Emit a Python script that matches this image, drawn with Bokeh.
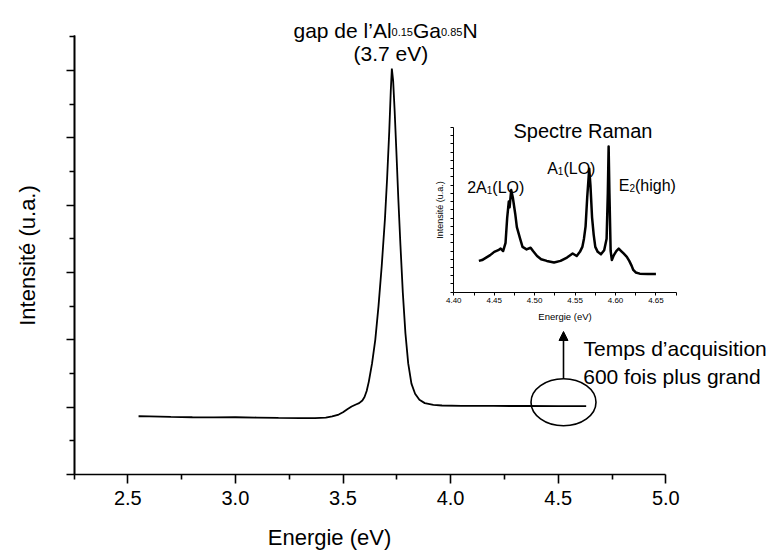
import math
from bokeh.plotting import figure
from bokeh.models import (Range1d, LinearAxis, FixedTicker, Label, Arrow, NormalHead,
                          PrintfTickFormatter)
from bokeh.embed import file_html
from bokeh.resources import INLINE

# ---------------- data ----------------
# main photoluminescence spectrum (energy in eV, intensity in arbitrary units)
main_energy = [2.55, 2.60, 2.70, 2.80, 2.90, 3.00, 3.10, 3.20, 3.30, 3.37, 3.42, 3.45, 3.48,
               3.50, 3.52, 3.54, 3.56, 3.575, 3.59, 3.60, 3.61, 3.62, 3.635, 3.65, 3.665,
               3.68, 3.695, 3.705, 3.715, 3.722, 3.727, 3.733, 3.740, 3.748, 3.757, 3.767,
               3.778, 3.790, 3.803, 3.818, 3.835, 3.855, 3.880, 3.92, 3.96, 4.05, 4.20,
               4.35, 4.50, 4.63]
main_intensity = [0.865, 0.862, 0.855, 0.850, 0.848, 0.850, 0.846, 0.840, 0.836, 0.836, 0.845,
                  0.862, 0.890, 0.925, 0.970, 1.010, 1.040, 1.060, 1.100, 1.150, 1.240, 1.380,
                  1.650, 2.000, 2.500, 3.100, 3.800, 4.400, 5.100, 5.700, 6.030, 5.850, 5.400,
                  4.800, 4.100, 3.400, 2.700, 2.100, 1.650, 1.350, 1.200, 1.110, 1.060, 1.035,
                  1.025, 1.020, 1.018, 1.017, 1.016, 1.015]

# Raman inset spectrum
raman_energy = [4.431, 4.435, 4.440, 4.445, 4.450, 4.455, 4.458, 4.461, 4.464, 4.466, 4.468,
                4.469, 4.471, 4.473, 4.476, 4.478, 4.482, 4.485, 4.490, 4.495, 4.498, 4.503,
                4.508, 4.515, 4.524, 4.532, 4.540, 4.547, 4.552, 4.556, 4.559, 4.561, 4.563,
                4.565, 4.5675, 4.569, 4.571, 4.573, 4.575, 4.578, 4.582, 4.586, 4.589, 4.5905,
                4.5915, 4.5925, 4.594, 4.5955, 4.598, 4.601, 4.604, 4.607, 4.610, 4.614, 4.617,
                4.620, 4.622, 4.625, 4.630, 4.640, 4.650]
raman_intensity = [3.8, 3.9, 4.2, 4.5, 4.9, 5.1, 5.3, 5.0, 6.0, 9.0, 11.0, 10.3, 12.4, 11.5,
                   9.5, 7.9, 6.5, 5.5, 5.2, 5.4, 5.0, 4.4, 4.0, 3.8, 3.6, 3.8, 4.2, 4.7, 4.4,
                   4.9, 5.5, 6.5, 8.0, 11.5, 15.0, 13.0, 9.1, 7.0, 5.5, 4.9, 4.6, 5.1, 6.5, 12.0,
                   17.7, 12.0, 5.0, 3.9, 4.5, 5.0, 5.3, 5.0, 4.7, 4.3, 3.8, 3.2, 2.7, 2.4, 2.25,
                   2.2, 2.2]

x_ticks = [2.5, 3.0, 3.5, 4.0, 4.5, 5.0]
x_minor = [2.25, 2.75, 3.25, 3.75, 4.25, 4.75]
y_ticks = [0, 1, 2, 3, 4, 5, 6]
y_minor = [0.5, 1.5, 2.5, 3.5, 4.5, 5.5, 6.5]
inset_x_ticks = [4.40, 4.45, 4.50, 4.55, 4.60, 4.65]
inset_x_minor = [4.425, 4.475, 4.525, 4.575, 4.625, 4.675]
inset_y_ticks = list(range(0, 21))

# ---------------- layout (frame = whole canvas, axes at fixed locations) ----------------
FONT = "Liberation Sans"
W, H = 772, 552
# main scale: 2.25 eV at x 73.5, 5.0 eV at 665.3 ; 0 at y 474, 6.52 at 35
PXE = (665.3 - 73.5) / 2.75
PYU = (474.0 - 35.0) / 6.52
XS = 2.25 - 73.5 / PXE
XE = XS + W / PXE
YT = 474.0 / PYU
YB = YT - H / PYU


def dx(px):
    return XS + px / PXE


def dy(py):
    return YT - py / PYU


# inset scale: 4.40 eV at x 453.3, 808.5 px/eV ; 0 at y 291.7, 8.235 px/unit
IPX = 808.5
IPY = 8.235
IXS = 4.40 - 453.3 / IPX
IXE = IXS + W / IPX
IYT = 291.7 / IPY
IYB = IYT - H / IPY

p = figure(width=W, height=H, output_backend="svg", toolbar_location=None,
           x_range=Range1d(XS, XE), y_range=Range1d(YB, YT),
           x_axis_location=None, y_axis_location=None, min_border=0)
p.outline_line_color = None
p.grid.visible = False
p.background_fill_color = "white"
p.border_fill_color = "white"
p.extra_x_ranges = {"ix": Range1d(IXS, IXE)}
p.extra_y_ranges = {"iy": Range1d(IYB, IYT)}


def style_axis(ax, lw):
    ax.axis_line_width = lw
    ax.major_tick_line_width = lw
    ax.minor_tick_line_width = lw
    ax.major_tick_in = 0
    ax.minor_tick_in = 0
    ax.axis_line_color = "black"
    ax.major_tick_line_color = "black"
    ax.minor_tick_line_color = "black"


# main x axis
xa = LinearAxis(fixed_location=0, bounds=(2.25, 5.0),
                ticker=FixedTicker(ticks=x_ticks, minor_ticks=x_minor),
                formatter=PrintfTickFormatter(format="%.1f"))
style_axis(xa, 1.6)
xa.major_tick_out = 9
xa.minor_tick_out = 5
xa.major_label_text_font = FONT
xa.major_label_text_font_size = "20px"
xa.major_label_text_color = "black"
xa.major_label_standoff = 7
p.add_layout(xa, "below")

# main y axis (no labels): long ticks at integers, short ticks at halves
ya1 = LinearAxis(fixed_location=2.25, bounds=(0, 6.52),
                 ticker=FixedTicker(ticks=[], minor_ticks=y_ticks))
style_axis(ya1, 1.6)
ya1.minor_tick_out = 8
p.add_layout(ya1, "left")
ya2 = LinearAxis(fixed_location=2.25, bounds=(0, 6.52),
                 ticker=FixedTicker(ticks=[], minor_ticks=y_minor))
style_axis(ya2, 1.6)
ya2.minor_tick_out = 5
p.add_layout(ya2, "left")

# inset x axis
ixa = LinearAxis(x_range_name="ix", y_range_name="iy", fixed_location=0,
                 bounds=(4.40, 4.675),
                 ticker=FixedTicker(ticks=inset_x_ticks, minor_ticks=inset_x_minor),
                 formatter=PrintfTickFormatter(format="%.2f"))
style_axis(ixa, 1)
ixa.major_tick_out = 3
ixa.minor_tick_out = 3
ixa.major_label_text_font = FONT
ixa.major_label_text_font_size = "8px"
ixa.major_label_text_color = "black"
ixa.major_label_standoff = 3
ixa.axis_label = "Energie (eV)"
ixa.axis_label_text_font = FONT
ixa.axis_label_text_font_size = "9.5px"
ixa.axis_label_text_font_style = "normal"
ixa.axis_label_text_color = "black"
ixa.axis_label_standoff = 4
p.add_layout(ixa, "below")

# inset y axis
iya = LinearAxis(x_range_name="ix", y_range_name="iy", fixed_location=4.40,
                 bounds=(0, 20), ticker=FixedTicker(ticks=[], minor_ticks=inset_y_ticks))
style_axis(iya, 1)
iya.minor_tick_out = 3
iya.axis_label = "Intensité (u.a.)"
iya.axis_label_text_font = FONT
iya.axis_label_text_font_size = "9px"
iya.axis_label_text_font_style = "normal"
iya.axis_label_text_color = "black"
iya.axis_label_standoff = 6
p.add_layout(iya, "left")

# curves
p.line(main_energy, main_intensity, line_color="black", line_width=1.8)
p.line(raman_energy, raman_intensity, line_color="black", line_width=2.5,
       line_join="round", x_range_name="ix", y_range_name="iy")

# ellipse + arrow marking the region recorded with longer acquisition
ell_cx, ell_cy = dx(563), dy(401.7)
ell_w, ell_h = 65 / PXE, 47 / PYU
p.ellipse(x=[ell_cx], y=[ell_cy], width=[ell_w], height=[ell_h],
          fill_color=None, line_color="black", line_width=1.6)
p.add_layout(Arrow(end=NormalHead(size=9, fill_color="black", line_color="black"),
                   x_start=dx(563), y_start=dy(378), x_end=dx(563), y_end=dy(331),
                   line_color="black", line_width=1.6))

# text helpers (Arial/Liberation Sans advance widths, per 1000 em)
WID = {" ": 278, "’": 222, "(": 333, ")": 333, ".": 278, "A": 667, "E": 667, "G": 778,
       "L": 556, "N": 722, "O": 778, "R": 722, "S": 667, "T": 611, "V": 667, "a": 556,
       "c": 500, "d": 556, "e": 556, "g": 556, "h": 556, "i": 222, "l": 222, "m": 833,
       "n": 556, "o": 556, "p": 556, "q": 556, "r": 333, "s": 500, "t": 278, "u": 556,
       "f": 278, "é": 556}


def tw(s, size):
    return sum(WID.get(c, 556) for c in s) / 1000.0 * size


def runs(px, py, parts):
    x = px
    for txt, size, shift in parts:
        p.add_layout(Label(x=dx(x), y=dy(py + shift), text=txt, text_font=FONT,
                           text_font_size=f"{size}px", text_color="black",
                           text_align="left", text_baseline="alphabetic"))
        x += tw(txt, size)


runs(293, 29.5, [("gap de l’Al", 21, 0), ("0.15", 11, 1.5), ("Ga", 21, 0),
                 ("0.85", 11, 1.5), ("N", 21, 0)])
runs(353, 52.5, [("(3.7 eV)", 21, 0)])
runs(513, 130, [("Spectre Raman", 20, 0)])
runs(466.7, 187, [("2A", 16, 0), ("1", 10, 2.5), ("(LO)", 16, 0)])
runs(546.7, 168.3, [("A", 16, 0), ("1", 10, 2.5), ("(LO)", 16, 0)])
runs(618.3, 185, [("E", 16, 0), ("2", 10, 2.5), ("(high)", 16, 0)])
runs(583, 348.3, [("Temps d’acquisition", 21, 0)])
runs(582.7, 376, [("600 fois plus grand", 21, 0)])

# axis titles of the main plot
p.add_layout(Label(x=dx(329), y=dy(537), text="Energie (eV)", text_font=FONT,
                   text_font_size="22px", text_color="black",
                   text_align="center", text_baseline="middle"))
p.add_layout(Label(x=dx(27), y=dy(255), text="Intensité (u.a.)", text_font=FONT,
                   text_font_size="22px", text_color="black", angle=math.pi / 2,
                   text_align="center", text_baseline="middle"))

open("out.html", "w").write(file_html(p, INLINE))
